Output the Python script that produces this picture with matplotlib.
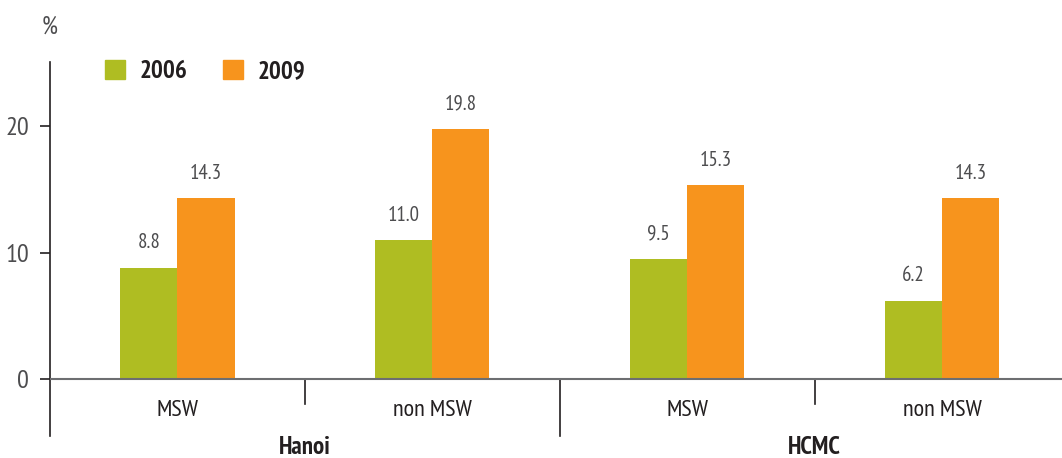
import matplotlib.pyplot as plt
from matplotlib.patches import Patch

# share of households, by city and worker type
cities = ["Hanoi", "HCMC"]
categories = ["MSW", "non MSW", "MSW", "non MSW"]
years = ["2006", "2009"]
vals_2006 = [8.8, 11.0, 9.5, 6.2]
vals_2009 = [14.3, 19.8, 15.3, 14.3]

green = "#afbd22"
orange = "#f7941d"
dark = "#231f20"
grey = "#4d4d4f"
font = ["PT Sans Narrow", "DejaVu Sans"]
plt.rcParams["font.family"] = font

W, H = 1062, 458
fig = plt.figure(figsize=(W / 100, H / 100), dpi=100)
ax = fig.add_axes([50 / W, (H - 436) / H, 1012 / W, 374 / H])

ppu = 12.65  # pixels per unit on y
ymin = -(436 - 379) / ppu
ymax = (379 - 62) / ppu
ax.set_ylim(ymin, ymax)
ax.set_xlim(-0.5, 3.47)

bw = 0.224
x = list(range(len(categories)))
ax.bar([i - bw / 2 for i in x], vals_2006, bw, color=green, zorder=2)
ax.bar([i + bw / 2 for i in x], vals_2009, bw, color=orange, zorder=2)

for i in x:
    ax.annotate(f"{vals_2006[i]:.1f}", (i - bw / 2, vals_2006[i]), xytext=(0, 11),
                textcoords="offset points", ha="center", va="bottom",
                fontsize=15, color=grey)
    ax.annotate(f"{vals_2009[i]:.1f}", (i + bw / 2, vals_2009[i]), xytext=(0, 11),
                textcoords="offset points", ha="center", va="bottom",
                fontsize=15, color=grey)

# baseline and group separators
ax.axhline(0, color="#6d6e71", lw=1.5, zorder=3)
for sx, low in [(0.5, -2.0), (1.5, ymin), (2.5, -2.0)]:
    ax.plot([sx, sx], [0, low], color=dark, lw=1.2, clip_on=False)

for i, c in zip(x, categories):
    ax.text(i, -(411 - 379) / ppu, c, ha="center", va="center", fontsize=17.5,
            color=dark)
for j, city in enumerate(cities):
    ax.text(0.5 + 2 * j, -(447 - 379) / ppu, city, ha="center", va="center",
            fontsize=18, fontweight="bold", color=dark, clip_on=False)

for s in ["top", "right", "bottom"]:
    ax.spines[s].set_visible(False)
ax.spines["left"].set_color(dark)
ax.spines["left"].set_linewidth(1.2)
ax.set_xticks([])
ax.set_yticks([0, 10, 20])
ax.tick_params(axis="y", length=7, width=1.2, color=dark, labelsize=19,
               labelcolor=grey, pad=8)

ax.text(0, 1 + 35 / 374, "%", transform=ax.transAxes, ha="center", va="center",
        fontsize=18, color=grey, clip_on=False)

handles = [Patch(color=green), Patch(color=orange)]
leg = ax.legend(handles, years, ncol=2, frameon=False, loc="center left",
                bbox_to_anchor=((105 - 50) / 1012, 1 - (71.5 - 62) / 374),
                handlelength=0.8, handleheight=0.8, handletextpad=0.6,
                columnspacing=1.4, borderaxespad=0, borderpad=0,
                prop={"family": font, "weight": "bold", "size": 18})
for t in leg.get_texts():
    t.set_color(dark)

fig.savefig("out.png", dpi=100)
